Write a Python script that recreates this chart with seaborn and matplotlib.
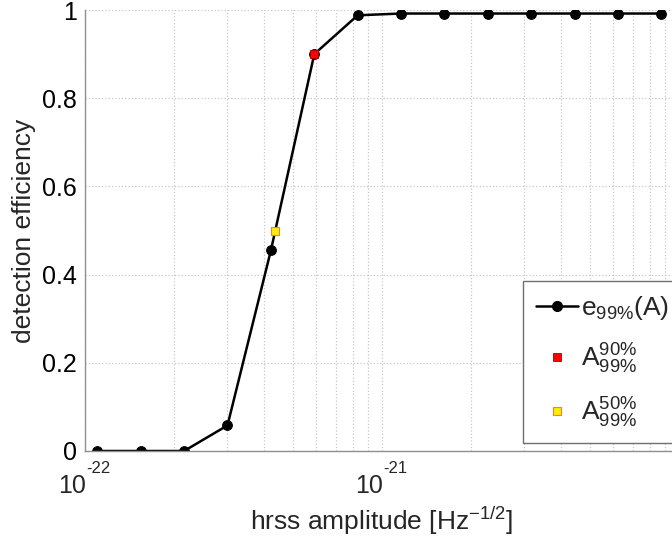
import numpy as np
import pandas as pd
import matplotlib
matplotlib.use('Agg')
import matplotlib.pyplot as plt
import seaborn as sns
from matplotlib.lines import Line2D
from matplotlib.ticker import LogLocator, NullFormatter

# efficiency curve
hrss = [1.10e-22, 1.54e-22, 2.156e-22, 3.018e-22, 4.226e-22, 5.916e-22, 8.28e-22,
        1.159e-21, 1.623e-21, 2.272e-21, 3.181e-21, 4.454e-21, 6.235e-21, 8.73e-21]
eff = [0.0, 0.0, 0.0, 0.058, 0.455, 0.90, 0.988,
       0.992, 0.992, 0.992, 0.992, 0.992, 0.992, 0.992]

# amplitudes at 90% and 50% efficiency
a90_x = [5.92e-22]
a90_y = [0.90]
a50_x = [4.36e-22]
a50_y = [0.50]

yticks = [0, 0.2, 0.4, 0.6, 0.8, 1]
ytick_labels = ['0', '0.2', '0.4', '0.6', '0.8', '1']
xticks = [1e-22, 1e-21]
xtick_exps = ['-22', '-21']

sns.set_style('white')
plt.rcParams['font.family'] = ['Liberation Sans', 'DejaVu Sans']
plt.rcParams['mathtext.fontset'] = 'custom'
plt.rcParams['mathtext.rm'] = 'Liberation Sans'
plt.rcParams['mathtext.it'] = 'Liberation Sans'

df = pd.DataFrame({'hrss': hrss, 'eff': eff})

fig = plt.figure(figsize=(6.72, 5.44), dpi=100)
ax = fig.add_axes([85/672, 93/544, 594/672, 441/544])

sns.lineplot(data=df, x='hrss', y='eff', ax=ax, color='black', linewidth=1.8,
             marker='o', markersize=7, markeredgecolor='black')
sns.scatterplot(x=a90_x, y=a90_y, ax=ax, marker='s', s=36, color='red',
                edgecolor='#b00000', linewidth=0.6, zorder=5)
sns.scatterplot(x=a50_x, y=a50_y, ax=ax, marker='s', s=36, color='#ffee00',
                edgecolor='#f08040', linewidth=0.8, zorder=5)

ax.set_xscale('log')
ax.set_xlim(1e-22, 1e-20)
ax.set_ylim(0, 1)
ax.set_yticks(yticks)
ax.set_yticklabels(ytick_labels)
ax.xaxis.set_major_locator(LogLocator(base=10))
ax.xaxis.set_minor_locator(LogLocator(base=10, subs=np.arange(2, 10)))
ax.xaxis.set_major_formatter(NullFormatter())
ax.xaxis.set_minor_formatter(NullFormatter())

# MATLAB-style 10^n labels with a raised exponent
for v, e in zip(xticks, xtick_exps):
    ax.annotate('10', xy=(v, 0), xycoords=('data', 'axes fraction'),
                xytext=(0.5, -30), textcoords='offset points',
                ha='right', va='baseline', fontsize=18)
    ax.annotate(e, xy=(v, 0), xycoords=('data', 'axes fraction'),
                xytext=(0.8, -15.8), textcoords='offset points',
                ha='left', va='baseline', fontsize=12)

ax.grid(True, which='major', axis='both', color='#c8c8c8', linestyle=':', linewidth=0.9)
ax.grid(True, which='minor', axis='x', color='#c8c8c8', linestyle=':', linewidth=0.9)

for s in ['top', 'right']:
    ax.spines[s].set_visible(False)
for s in ['left', 'bottom']:
    ax.spines[s].set_color('#909090')
    ax.spines[s].set_linewidth(1.0)

ax.tick_params(axis='both', which='both', direction='in', colors='#707070',
               labelcolor='black', labelsize=18)
ax.tick_params(axis='both', which='major', length=5)
ax.tick_params(axis='x', which='minor', length=3)
ax.tick_params(axis='y', which='major', pad=6)

ax.set_xlabel(r'hrss amplitude [Hz$^{-1/2}$]', fontsize=19, labelpad=35)
ax.set_ylabel('detection efficiency', fontsize=19, labelpad=4)

handles = [
    Line2D([], [], color='black', linewidth=1.8, marker='o', markersize=7),
    Line2D([], [], linestyle='none', marker='s', markersize=6, color='red',
           markeredgecolor='#b00000', markeredgewidth=0.6),
    Line2D([], [], linestyle='none', marker='s', markersize=6, color='#ffee00',
           markeredgecolor='#f08040', markeredgewidth=0.8),
]
labels = [r'e$_{99\%}$(A)', r'A$_{99\%}^{90\%}$', r'A$_{99\%}^{50\%}$']
leg = ax.legend(handles, labels, loc='lower left', bbox_to_anchor=(0.737, 0.018),
                fontsize=19, frameon=True, fancybox=False, framealpha=1,
                edgecolor='#707070', handlelength=1.6, handletextpad=0.1,
                labelspacing=0.75, borderpad=0.5, borderaxespad=0)
leg.get_frame().set_linewidth(1.0)

fig.savefig('out.png', dpi=100)
